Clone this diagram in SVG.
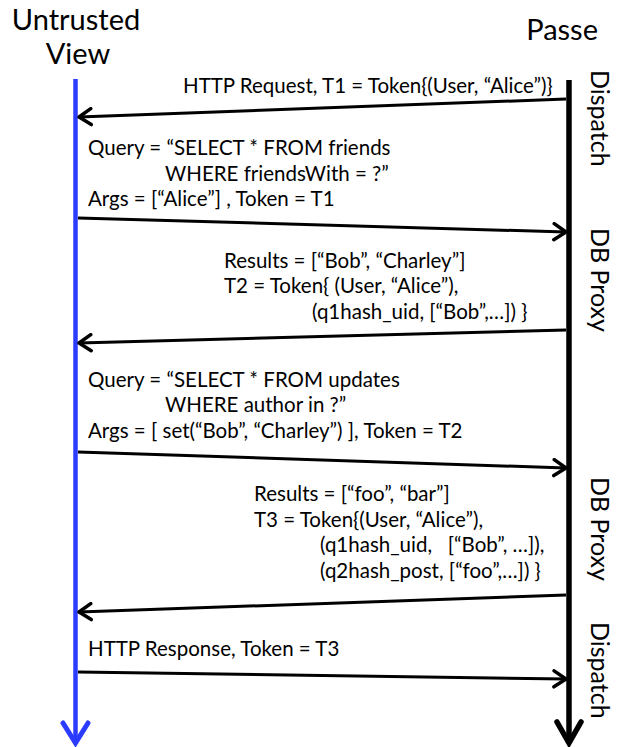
<svg xmlns="http://www.w3.org/2000/svg" width="620" height="747" viewBox="0 0 620 747">
<style>
.t{font-family:Lato,"Liberation Sans",sans-serif;fill:#000;white-space:pre}
.m{font-size:20.5px}
.big{font-size:25px}
.title{font-size:29px}
.msg{stroke:#000;stroke-width:3;fill:none}
</style>
<defs>
<marker id="ah" markerWidth="20" markerHeight="20" refX="14" refY="10" orient="auto" markerUnits="userSpaceOnUse">
<path d="M2,2 L14,10 L2,18" stroke="#000" stroke-width="3.5" fill="none" stroke-linecap="round" stroke-linejoin="round"/>
</marker>
</defs>
<rect width="620" height="747" fill="#fff"/>
<g id="view">
<text class="t title" x="76" y="30" text-anchor="middle">Untrusted</text>
<text class="t title" x="78" y="64" text-anchor="middle">View</text>
<line x1="75.5" y1="79" x2="75.5" y2="743" stroke="#2b3bff" stroke-width="4.5"/>
<path d="M63,723 L75.5,743 L88,723" stroke="#2b3bff" stroke-width="5" fill="none" stroke-linecap="round"/>
</g>
<g id="passe">
<text class="t title" x="598" y="40" text-anchor="end">Passe</text>
<line x1="569" y1="80" x2="569" y2="743" stroke="#000" stroke-width="5.5"/>
<path d="M557,722 L569,743 L581,722" stroke="#000" stroke-width="5.5" fill="none" stroke-linecap="round"/>
<text class="t big" transform="translate(591,70) rotate(90)">Dispatch</text>
<text class="t big" transform="translate(591,228) rotate(90)">DB Proxy</text>
<text class="t big" transform="translate(591,477) rotate(90)">DB Proxy</text>
<text class="t big" transform="translate(591,622) rotate(90)">Dispatch</text>
</g>
<g id="connectors">
<line class="msg" x1="566" y1="99" x2="79" y2="117" marker-end="url(#ah)"/>
<line class="msg" x1="78" y1="218" x2="566" y2="232" marker-end="url(#ah)"/>
<line class="msg" x1="566" y1="330" x2="79" y2="343" marker-end="url(#ah)"/>
<line class="msg" x1="78" y1="452" x2="566" y2="468" marker-end="url(#ah)"/>
<line class="msg" x1="566" y1="595" x2="79" y2="612" marker-end="url(#ah)"/>
<line class="msg" x1="78" y1="672" x2="566" y2="679" marker-end="url(#ah)"/>
</g>
<g id="msg1">
<text class="t m" x="183" y="93">HTTP Request, T1 = Token{(User, “Alice”)}</text>
</g>
<g id="msg2">
<text class="t m" x="88" y="155">Query = “SELECT * FROM friends</text>
<text class="t m" x="165" y="181">WHERE friendsWith = ?”</text>
<text class="t m" x="88" y="206">Args = [“Alice”] , Token = T1</text>
</g>
<g id="msg3">
<text class="t m" x="224" y="268">Results = [“Bob”, “Charley”]</text>
<text class="t m" x="224" y="293">T2 = Token{ (User, “Alice”),</text>
<text class="t m" x="312" y="319">(q1hash_uid, [“Bob”,…]) }</text>
</g>
<g id="msg4">
<text class="t m" x="88" y="387">Query = “SELECT * FROM updates</text>
<text class="t m" x="165" y="412">WHERE author in ?”</text>
<text class="t m" x="88" y="438">Args = [ set(“Bob”, “Charley”) ], Token = T2</text>
</g>
<g id="msg5">
<text class="t m" x="254" y="501">Results = [“foo”, “bar”]</text>
<text class="t m" x="254" y="527">T3 = Token{(User, “Alice”),</text>
<text class="t m" x="320" y="552">(q1hash_uid,   [“Bob”, …]),</text>
<text class="t m" x="320" y="578">(q2hash_post, [“foo”,…]) }</text>
</g>
<g id="msg6">
<text class="t m" x="88" y="656">HTTP Response, Token = T3</text>
</g>
</svg>
